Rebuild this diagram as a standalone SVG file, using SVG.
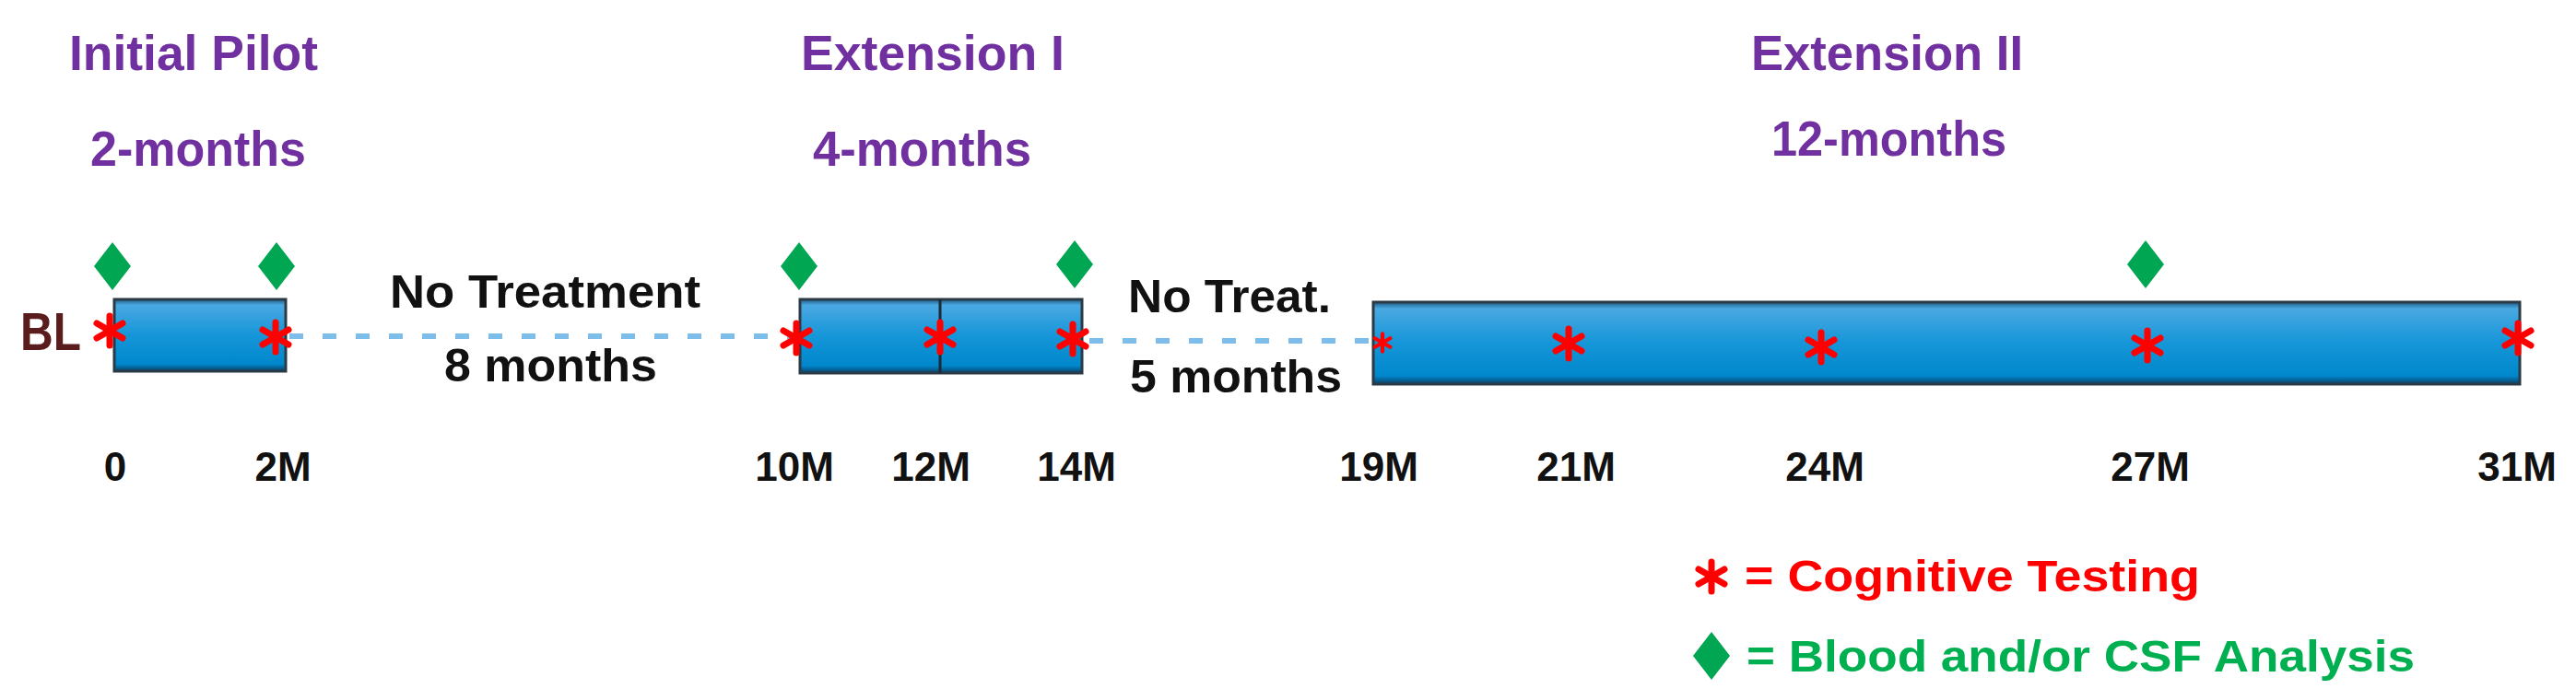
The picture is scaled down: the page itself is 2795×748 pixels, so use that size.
<svg xmlns="http://www.w3.org/2000/svg" width="2795" height="748" viewBox="0 0 2795 748">
<style>
.ph{font-family:"Liberation Sans",Arial,sans-serif;font-weight:bold;font-size:54px;fill:#7030a0}
.bk{font-family:"Liberation Sans",Arial,sans-serif;font-weight:bold;font-size:50px;fill:#111}
.ax{font-family:"Liberation Sans",Arial,sans-serif;font-weight:bold;font-size:44px;fill:#111;text-anchor:middle}
.lg{font-family:"Liberation Sans",Arial,sans-serif;font-weight:bold;font-size:48px}
.box{fill:url(#bg);stroke:#2b3a44;stroke-width:3}
.dash{stroke:#7cbde9;stroke-width:6;stroke-dasharray:15 21;fill:none}
.ast{stroke:#ff0000;stroke-width:7;stroke-linecap:round}
.dia{fill:#00a651}
</style>
<defs>
<linearGradient id="bg" x1="0" y1="0" x2="0" y2="1">
<stop offset="0" stop-color="#1d5a86"/>
<stop offset="0.08" stop-color="#4aa8e2"/>
<stop offset="0.5" stop-color="#1596d8"/>
<stop offset="0.9" stop-color="#0087cc"/>
<stop offset="1" stop-color="#0a3f66"/>
</linearGradient>
<g id="ast" class="ast"><line x1="0" y1="-16" x2="0" y2="16"/><line x1="-14" y1="-8" x2="14" y2="8"/><line x1="-14" y1="8" x2="14" y2="-8"/></g>
<polygon id="dia" class="dia" points="0,-26 20,0 0,26 -20,0"/>
</defs>

<g id="titles">
<text class="ph" x="75" y="76" textLength="270" lengthAdjust="spacingAndGlyphs">Initial  Pilot</text>
<text class="ph" x="98" y="180" textLength="234" lengthAdjust="spacingAndGlyphs">2-months</text>
<text class="ph" x="869" y="76" textLength="286" lengthAdjust="spacingAndGlyphs">Extension  I</text>
<text class="ph" x="882" y="180" textLength="237" lengthAdjust="spacingAndGlyphs">4-months</text>
<text class="ph" x="1900" y="76" textLength="295" lengthAdjust="spacingAndGlyphs">Extension  II</text>
<text class="ph" x="1922" y="169" textLength="255" lengthAdjust="spacingAndGlyphs">12-months</text>
</g>

<g id="connectors">
<line class="dash" x1="314" y1="365" x2="862" y2="365"/>
<line class="dash" x1="1182" y1="370" x2="1490" y2="370"/>
</g>

<g id="node-pilot">
<rect class="box" x="124" y="325" width="186" height="78"/>
</g>
<g id="node-ext1">
<rect class="box" x="868" y="325" width="306" height="80"/>
<line x1="1020" y1="325" x2="1020" y2="405" stroke="#1b2a36" stroke-width="3"/>
</g>
<g id="node-ext2">
<rect class="box" x="1490" y="328" width="1244" height="89"/>
</g>

<g id="gap-labels">
<text class="bk" x="423" y="334" textLength="337" lengthAdjust="spacingAndGlyphs">No Treatment</text>
<text class="bk" x="482" y="414" textLength="231" lengthAdjust="spacingAndGlyphs">8 months</text>
<text class="bk" x="1224" y="339" textLength="220" lengthAdjust="spacingAndGlyphs">No Treat.</text>
<text class="bk" x="1226" y="426" textLength="230" lengthAdjust="spacingAndGlyphs">5 months</text>
<text x="22" y="380" font-family="Liberation Sans,Arial,sans-serif" font-weight="bold" font-size="58" fill="#5a1c1c" textLength="66" lengthAdjust="spacingAndGlyphs">BL</text>
</g>

<g id="diamonds">
<use href="#dia" x="122" y="289"/>
<use href="#dia" x="300" y="289"/>
<use href="#dia" x="867" y="289"/>
<use href="#dia" x="1166" y="287"/>
<use href="#dia" x="2328" y="287"/>
</g>

<g id="asterisks">
<use href="#ast" x="119" y="359"/>
<use href="#ast" x="299" y="366"/>
<use href="#ast" x="864" y="367"/>
<use href="#ast" x="1020" y="366"/>
<use href="#ast" x="1164" y="368"/>
<g transform="translate(1500,372) scale(0.6)"><use href="#ast"/></g>
<use href="#ast" x="1702" y="373"/>
<use href="#ast" x="1976" y="377"/>
<use href="#ast" x="2330" y="375"/>
<use href="#ast" x="2732" y="367"/>
</g>

<g id="axis">
<text class="ax" x="125" y="522">0</text>
<text class="ax" x="307" y="522">2M</text>
<text class="ax" x="862" y="522">10M</text>
<text class="ax" x="1010" y="522">12M</text>
<text class="ax" x="1168" y="522">14M</text>
<text class="ax" x="1496" y="522">19M</text>
<text class="ax" x="1710" y="522">21M</text>
<text class="ax" x="1980" y="522">24M</text>
<text class="ax" x="2333" y="522">27M</text>
<text class="ax" x="2731" y="522">31M</text>
</g>

<g id="legend">
<use href="#ast" x="1857" y="626"/>
<text class="lg" x="1893" y="642" fill="#ff0000" textLength="494" lengthAdjust="spacingAndGlyphs">= Cognitive Testing</text>
<use href="#dia" x="1857" y="712"/>
<text class="lg" x="1895" y="729" fill="#00b050" textLength="725" lengthAdjust="spacingAndGlyphs">= Blood and/or  CSF Analysis</text>
</g>
</svg>
